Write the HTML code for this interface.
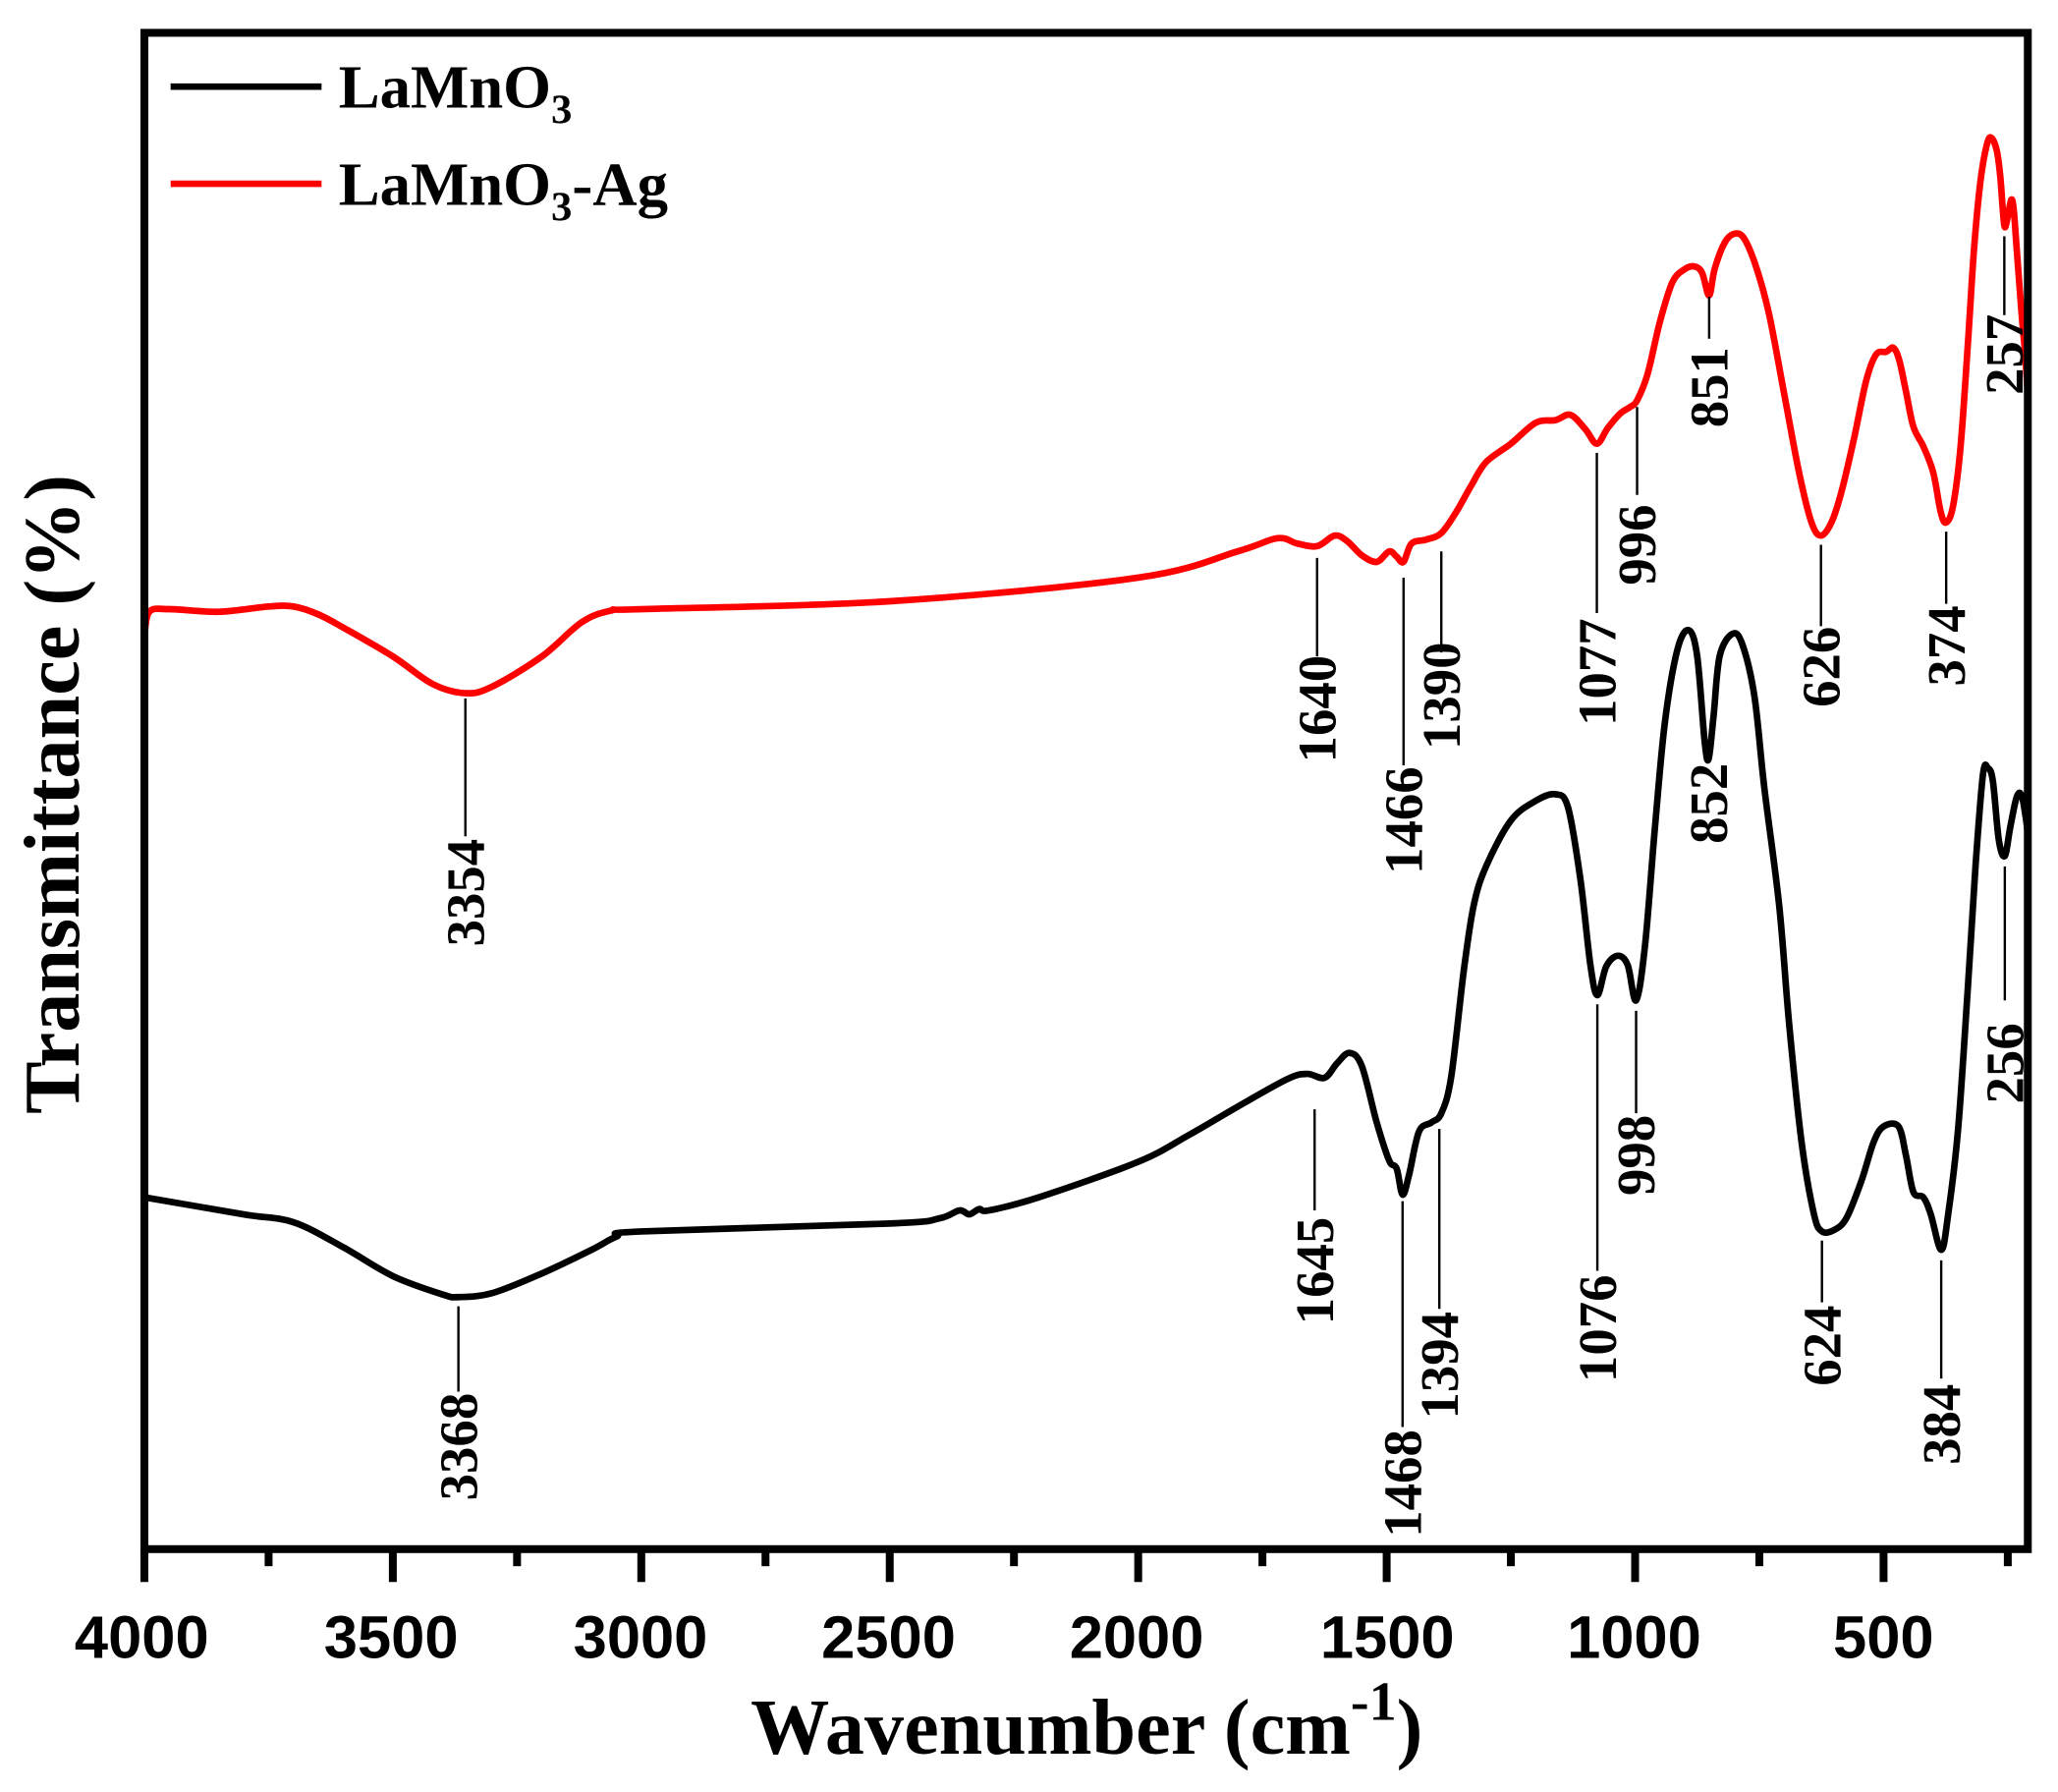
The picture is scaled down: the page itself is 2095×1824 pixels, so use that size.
<!DOCTYPE html>
<html><head><meta charset="utf-8">
<style>
html,body{margin:0;padding:0;background:#fff;}
svg{display:block;}
.ann{font-family:"Liberation Serif",serif;font-weight:bold;font-size:41px;}
.tk{font-family:"Liberation Sans",sans-serif;font-weight:bold;font-size:46px;}
</style></head><body>
<svg id="s" width="2095" height="1824" viewBox="0 0 1568 1365" preserveAspectRatio="none" xmlns="http://www.w3.org/2000/svg">
<rect x="0" y="0" width="1568" height="1365" fill="#fff"/>
<path id="blk" fill="none" stroke="#000" stroke-width="5" stroke-linejoin="round" stroke-linecap="round"/>
<path id="red" fill="none" stroke="#f00" stroke-width="5" stroke-linejoin="round" stroke-linecap="round"/>
<rect x="110" y="25" width="1435" height="1155" fill="none" stroke="#000" stroke-width="6"/>
<g id="ticks" stroke="#000" stroke-width="6"></g>
<g class="tk" text-anchor="middle">
<text x="108" y="1263">4000</text><text x="298" y="1263">3500</text><text x="488" y="1263">3000</text><text x="677" y="1263">2500</text><text x="866" y="1263">2000</text><text x="1057" y="1263">1500</text><text x="1245" y="1263">1000</text><text x="1435" y="1263">500</text>
</g>
<text x="828" y="1336" text-anchor="middle" font-family="Liberation Serif,serif" font-weight="bold" font-size="60">Wavenumber (cm<tspan dy="-26" font-size="42">-1</tspan><tspan dy="26">)</tspan></text>
<text transform="translate(60,605) rotate(-90)" text-anchor="middle" font-family="Liberation Serif,serif" font-weight="bold" font-size="60">Transmittance (%)</text>
<line x1="130" y1="66" x2="245" y2="66" stroke="#000" stroke-width="5"/>
<line x1="130" y1="140" x2="245" y2="140" stroke="#f00" stroke-width="5"/>
<text x="258" y="82" font-family="Liberation Serif,serif" font-weight="bold" font-size="47">LaMnO<tspan dy="12" font-size="32">3</tspan></text>
<text x="258" y="156" font-family="Liberation Serif,serif" font-weight="bold" font-size="47">LaMnO<tspan dy="12" font-size="32">3</tspan><tspan dy="-12">-Ag</tspan></text>
<g id="ann" stroke="#000" stroke-width="1.8"></g>
</svg>
<script>
function X(w){return 110+(4000-w)*0.3786;}
function path(pts){
 var p=pts.map(function(a){return [X(a[0]),a[1]];});
 var d="M"+p[0][0]+","+p[0][1];
 for(var i=0;i<p.length-1;i++){
  var p0=p[i-1]||p[i],p1=p[i],p2=p[i+1],p3=p[i+2]||p2;
  var c1=[p1[0]+(p2[0]-p0[0])/6,p1[1]+(p2[1]-p0[1])/6];
  var c2=[p2[0]-(p3[0]-p1[0])/6,p2[1]-(p3[1]-p1[1])/6];
  d+=" C"+c1+" "+c2+" "+p2;
 }
 return d;
}
var B=[[4000,912],[3800,925],[3700,931],[3600,950],[3500,972],[3400,986],[3368,988],[3300,985],[3200,970],[3100,952],[3050,942],[3000,938],[2500,932],[2400,928],[2360,922],[2340,925],[2320,921],[2300,922],[2200,912],[2000,885],[1900,865],[1800,843],[1700,822],[1660,818],[1625,821],[1600,810],[1575,802],[1550,812],[1520,855],[1495,884],[1480,890],[1468,910],[1455,895],[1435,862],[1410,855],[1390,848],[1370,820],[1345,740],[1325,690],[1300,660],[1250,625],[1200,610],[1160,605],[1135,615],[1110,670],[1090,735],[1076,758],[1058,736],[1035,728],[1015,735],[998,762],[980,720],[960,630],[940,550],[915,495],[892,480],[875,500],[860,565],[852,578],[842,545],[830,500],[805,483],[785,490],[760,530],[740,600],[710,690],[690,780],[665,870],[640,925],[624,938],[600,937],[575,928],[545,900],[520,870],[500,858],[470,858],[455,880],[440,908],[420,912],[405,925],[384,952],[370,925],[350,860],[330,750],[315,660],[300,590],[290,585],[280,595],[268,640],[256,652],[245,630],[232,607],[222,606],[213,625],[210,635]];
var R=[[4000,485],[3990,466],[3950,464],[3850,466],[3750,462],[3700,462],[3650,468],[3600,478],[3500,500],[3420,521],[3354,528],[3300,523],[3200,500],[3120,474],[3060,465],[3000,464],[2500,458],[2000,440],[1800,420],[1720,410],[1680,414],[1640,416],[1605,408],[1580,412],[1550,423],[1520,428],[1495,420],[1480,424],[1466,428],[1450,414],[1420,411],[1390,406],[1360,390],[1330,370],[1300,352],[1250,338],[1200,322],[1160,320],[1130,316],[1100,327],[1077,338],[1055,326],[1030,315],[1010,310],[996,305],[975,285],[950,245],[925,215],[900,205],[880,203],[865,208],[851,225],[840,205],[820,185],[800,178],[780,182],[755,205],[730,240],[700,300],[670,360],[645,398],[626,408],[605,398],[585,375],[560,335],[535,290],[515,270],[495,268],[480,265],[468,275],[455,298],[440,325],[420,340],[400,360],[385,390],[374,398],[360,385],[345,340],[330,260],[318,190],[305,138],[292,110],[283,105],[272,115],[265,135],[260,160],[256,173],[250,165],[243,152],[238,160],[232,190],[222,240],[215,270],[210,300]];
document.getElementById('blk').setAttribute('d',path(B));
document.getElementById('red').setAttribute('d',path(R));
var t="";
for(var w=4000;w>=250;w-=250){var x=X(w);var L=(w%500==0)?25:13;t+='<line x1="'+x+'" y1="1180" x2="'+x+'" y2="'+(1180+L)+'"/>';}
document.getElementById('ticks').innerHTML=t;
var A=[[3368,995,1060,1102],[1645,845,922,968],[1468,915,1087,1130],[1394,860,997,1040],[1076,765,968,1012],[998,770,848,880],[852,640,640,612],[624,945,992,1025],[384,960,1050,1085],[256,660,762,810],
[3354,532,637,680],[1640,425,500,540],[1466,440,583,625],[1390,420,497,530],[1077,345,467,512],[996,310,377,415],[851,226,258,295],[626,415,477,508],[374,405,460,492],[257,180,240,270]];
var s="";
A.forEach(function(a){var x=X(a[0]);if(a[1]!=a[2])s+='<line x1="'+x+'" y1="'+a[1]+'" x2="'+x+'" y2="'+a[2]+'"/>';
s+='<text class="ann" stroke="none" text-anchor="middle" transform="translate('+(x+14)+','+a[3]+') rotate(-90)">'+a[0]+'</text>';});
document.getElementById('ann').innerHTML=s;
</script>
</body></html>
